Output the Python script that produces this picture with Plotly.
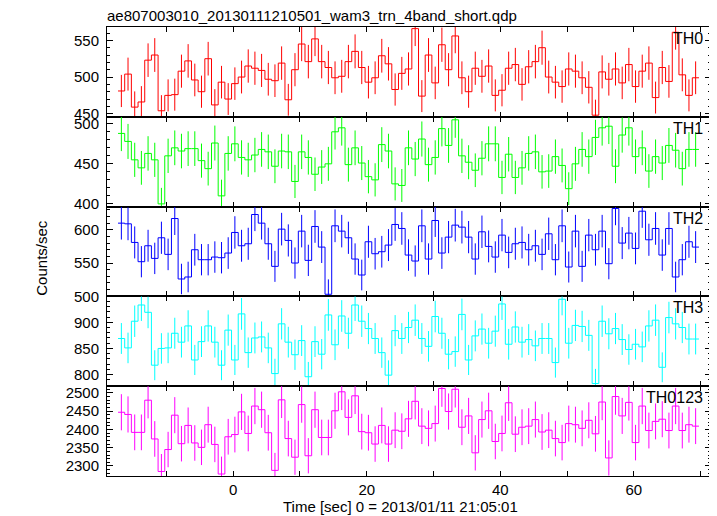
import numpy as np
import plotly.graph_objects as go
from plotly.subplots import make_subplots

# ---------------- data ----------------
title_text = "ae807003010_20130111210501_wam3_trn_4band_short.qdp"
x_title = "Time [sec] 0 = 2013/01/11 21:05:01"
y_title = "Counts/sec"
panel_names = ["TH0", "TH1", "TH2", "TH3", "TH0123"]

first_bin_center = -16.75   # s, 1-s bins
bin_width = 1.0

th0 = [481, 504, 459, 466, 523, 530, 454, 475, 476, 508,
       522, 496, 480, 525, 462, 493, 470, 491, 500, 515,
       512, 509, 497, 495, 519, 469, 510, 545, 521, 552,
       521, 513, 499, 501, 521, 535, 513, 493, 499, 529,
       518, 483, 505, 511, 566, 474, 530, 492, 544, 510,
       556, 499, 480, 512, 501, 515, 475, 482, 512, 517,
       490, 514, 521, 540, 500, 493, 487, 511, 508, 499,
       486, 448, 507, 497, 511, 492, 517, 487, 508, 519,
       472, 513, 494, 561, 503, 475, 499]
th1 = [488, 478, 455, 445, 463, 455, 400, 460, 470, 466,
       469, 469, 454, 444, 476, 410, 463, 475, 458, 455,
       461, 468, 465, 447, 466, 465, 428, 465, 458, 437,
       446, 450, 490, 495, 449, 470, 451, 434, 430, 474,
       466, 425, 423, 470, 456, 481, 449, 458, 494, 473,
       505, 460, 452, 442, 457, 475, 475, 433, 462, 433,
       445, 463, 465, 440, 441, 459, 448, 419, 450, 468,
       459, 483, 495, 497, 447, 486, 495, 459, 470, 441,
       459, 451, 473, 467, 444, 468, 468]
th2 = [610, 609, 581, 552, 576, 557, 588, 563, 617, 526,
       529, 570, 555, 555, 559, 558, 565, 596, 576, 579,
       623, 610, 579, 545, 601, 584, 550, 598, 554, 605,
       574, 503, 606, 598, 588, 556, 532, 582, 564, 567,
       577, 608, 602, 562, 553, 606, 556, 614, 565, 589,
       607, 604, 589, 556, 597, 575, 559, 592, 566, 579,
       581, 570, 576, 563, 594, 555, 606, 544, 598, 545,
       592, 570, 598, 549, 632, 580, 595, 572, 628, 585,
       602, 562, 602, 529, 555, 582, 574]
th3 = [869, 851, 902, 933, 919, 818, 850, 851, 879, 862,
       893, 828, 863, 893, 862, 818, 885, 828, 916, 842,
       870, 872, 851, 802, 897, 862, 838, 865, 796, 863,
       839, 914, 857, 912, 879, 933, 902, 888, 869, 842,
       799, 884, 869, 890, 904, 869, 854, 911, 879, 839,
       844, 915, 828, 874, 887, 860, 883, 935, 858, 891,
       862, 867, 855, 869, 869, 823, 944, 860, 894, 892,
       875, 783, 902, 878, 888, 867, 848, 858, 853, 893,
       904, 814, 909, 897, 890, 868, 868]
th0123 = [2447, 2441, 2392, 2392, 2480, 2374, 2285, 2345, 2439, 2361,
          2411, 2363, 2351, 2413, 2359, 2278, 2380, 2386, 2448, 2389,
          2464, 2454, 2391, 2288, 2481, 2375, 2324, 2468, 2328, 2454,
          2378, 2378, 2451, 2503, 2433, 2492, 2394, 2391, 2360, 2411,
          2360, 2398, 2395, 2429, 2477, 2409, 2403, 2416, 2512, 2449,
          2510, 2406, 2437, 2336, 2427, 2451, 2367, 2389, 2473, 2387,
          2406, 2409, 2427, 2393, 2398, 2375, 2364, 2416, 2413, 2403,
          2425, 2388, 2475, 2322, 2490, 2437, 2474, 2364, 2464, 2397,
          2422, 2428, 2397, 2464, 2397, 2413, 2409]

series = [th0, th1, th2, th3, th0123]
x_tickvals = [-10, 0, 10, 20, 30, 40, 50, 60, 70]
x_ticktext = ["", "0", "", "20", "", "40", "", "60", ""]

# ---------------- styles ----------------
colors = ["#ff0000", "#00ff00", "#0000ff", "#00ffff", "#ff00ff"]
y_ranges = [[445.8, 568.2], [396.6, 508.75], [499.8, 634.9], [777.9, 949.4], [2272.6, 2518.3]]
x_range = [-18.9, 71.55]
FONT = "Liberation Sans, Arial, Helvetica, sans-serif"

fig = make_subplots(rows=5, cols=1, shared_xaxes=True, vertical_spacing=0)

for i, (vals, col) in enumerate(zip(series, colors), start=1):
    v = np.asarray(vals, dtype=float)
    n = len(v)
    centers = first_bin_center + bin_width * np.arange(n)
    edges = np.append(centers - bin_width / 2, centers[-1] + bin_width / 2)
    err = np.sqrt(v)  # Poisson errors of 1-s bins
    fig.add_trace(go.Scatter(x=edges, y=np.append(v, v[-1]), mode="lines",
                             line=dict(color=col, width=1, shape="hv"),
                             hoverinfo="skip", showlegend=False), row=i, col=1)
    fig.add_trace(go.Scatter(x=centers, y=v, mode="markers",
                             marker=dict(size=0.1, color=col, opacity=0),
                             error_y=dict(type="data", array=err, visible=True,
                                          width=0, thickness=1, color=col),
                             showlegend=False), row=i, col=1)
    xa = "x" if i == 1 else f"x{i}"
    ya = "y" if i == 1 else f"y{i}"
    fig.add_annotation(text=panel_names[i - 1], xref=f"{xa} domain", yref=f"{ya} domain",
                       x=1, y=1, xanchor="right", yanchor="top", xshift=-6, yshift=-1,
                       showarrow=False, font=dict(family=FONT, size=16, color="black"))

    fig.update_yaxes(row=i, col=1, range=y_ranges[i - 1], dtick=50, tick0=0,
                     showline=True, linecolor="black", linewidth=1, mirror="ticks",
                     ticks="inside", ticklen=6, tickcolor="black",
                     minor=dict(dtick=10, ticks="inside", ticklen=3, tickcolor="black", showgrid=False),
                     showgrid=False, zeroline=False, ticklabelstandoff=4,
                     tickfont=dict(family=FONT, size=15, color="black"))
    fig.update_xaxes(row=i, col=1, range=x_range, tickvals=x_tickvals, ticktext=x_ticktext,
                     showline=True, linecolor="black", linewidth=1, mirror="ticks",
                     ticks="inside", ticklen=5, tickcolor="black",
                     showgrid=False, zeroline=False, showticklabels=(i == 5),
                     tickfont=dict(family=FONT, size=15, color="black"))

fig.add_annotation(text=title_text, xref="paper", yref="paper", x=0, y=1.0248,
                   xanchor="left", yanchor="middle", xshift=-2, showarrow=False,
                   font=dict(family=FONT, size=15, color="black"))
fig.add_annotation(text=x_title, xref="paper", yref="paper", x=(400 - 107) / 604, y=-0.0669,
                   xanchor="center", yanchor="middle", showarrow=False,
                   font=dict(family=FONT, size=15, color="black"))
fig.add_annotation(text=y_title, xref="paper", yref="paper", x=(40.7 - 107) / 604, y=0.4855,
                   xanchor="center", yanchor="middle", textangle=-90, showarrow=False,
                   font=dict(family=FONT, size=15, color="black"))

# page body has an 8 px margin: size the figure so the plot area lands at x 107-711, y 27-476
fig.update_layout(width=709, height=508, margin=dict(l=99, r=6, t=19, b=40),
                  paper_bgcolor="white", plot_bgcolor="white", showlegend=False,
                  font=dict(family=FONT, size=15, color="black"))

fig.write_html("out.html")
